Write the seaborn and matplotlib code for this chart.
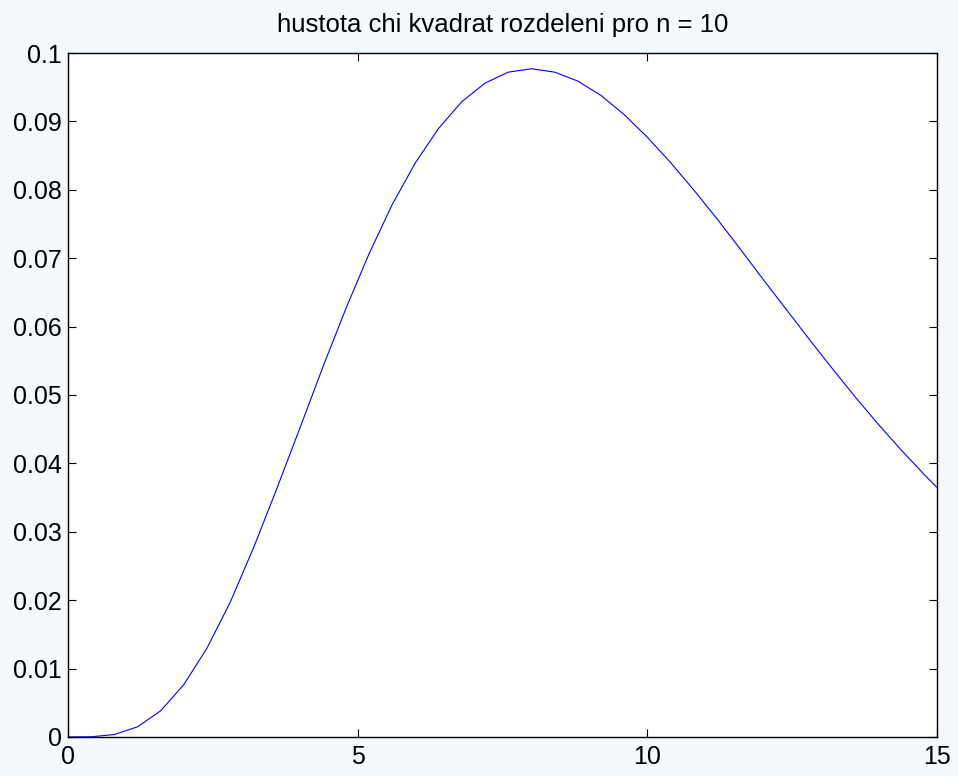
import pandas as pd
import matplotlib
matplotlib.use("Agg")
import matplotlib.pyplot as plt
import seaborn as sns

# x values and density values
x_vals = [0.0, 0.4, 0.8, 1.2, 1.6, 2.0, 2.4, 2.8, 3.2, 3.6, 4.0, 4.4, 4.8,
          5.2, 5.6, 6.0, 6.4, 6.8, 7.2, 7.6, 8.0, 8.4, 8.8, 9.2, 9.6, 10.0,
          10.4, 10.8, 11.2, 11.6, 12.0, 12.4, 12.8, 13.2, 13.6, 14.0, 14.4,
          14.8, 15.0]
density = [0.0, 0.00003, 0.00036, 0.00148, 0.00383, 0.00766, 0.0130, 0.0197,
           0.0276, 0.0362, 0.0451, 0.0541, 0.0627, 0.0707, 0.0779, 0.0840,
           0.0890, 0.0929, 0.0956, 0.0972, 0.0977, 0.0972, 0.0959, 0.0938,
           0.0910, 0.0877, 0.0840, 0.0800, 0.0758, 0.0714, 0.0669, 0.0625,
           0.0581, 0.0538, 0.0496, 0.0456, 0.0418, 0.0382, 0.0365]

xticks = [0, 5, 10, 15]
yticks = [0, 0.01, 0.02, 0.03, 0.04, 0.05, 0.06, 0.07, 0.08, 0.09, 0.1]
ytick_labels = ["0", "0.01", "0.02", "0.03", "0.04", "0.05", "0.06", "0.07",
                "0.08", "0.09", "0.1"]

df = pd.DataFrame({"x": x_vals, "f": density})

sns.set_style("ticks")
plt.rcParams['font.family'] = ['Liberation Sans', 'DejaVu Sans']

fig = plt.figure(figsize=(9.58, 7.76), dpi=100)
fig.patch.set_facecolor('#f4f9fe')
ax = fig.add_axes([0.071, 0.0503, 0.907, 0.8814])
ax.set_facecolor('white')

sns.lineplot(data=df, x="x", y="f", color=(0, 0, 1), linewidth=0.8, ax=ax)

ax.set_xlim(0, 15)
ax.set_ylim(0, 0.1)
ax.set_xticks(xticks)
ax.set_xticklabels([str(t) for t in xticks])
ax.set_yticks(yticks)
ax.set_yticklabels(ytick_labels)
ax.set_xlabel("")
ax.set_ylabel("")
ax.tick_params(direction='in', length=6, width=0.8, labelsize=18,
               colors='black', top=True, right=True)
ax.tick_params(axis='y', pad=4.5)
ax.tick_params(axis='x', pad=6)
for s in ax.spines.values():
    s.set_linewidth(1.0)
    s.set_color('black')
    s.set_visible(True)
ax.set_title("hustota chi kvadrat rozdeleni pro n = 10", fontsize=18.5,
             color='black', pad=15)

fig.savefig("out.png", dpi=100, facecolor=fig.get_facecolor())
